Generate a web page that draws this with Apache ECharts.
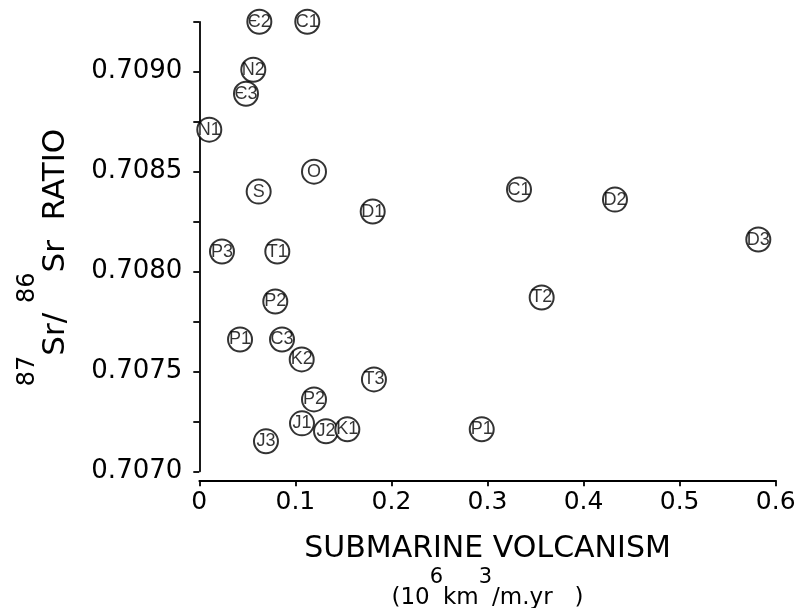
<!DOCTYPE html>
<html><head><meta charset="utf-8">
<script src="https://cdn.jsdelivr.net/npm/echarts@6/dist/echarts.min.js"></script>
<style>html,body{margin:0;padding:0;background:#fff}#c{width:797px;height:608px}</style>
</head><body><div id="c"></div>
<script>
// Geological period labels for each point
const periods = ['Є2','C1','N2','Є3','N1','O','S','D1','P3','T1','P2','P1','C3','K2','T3','P2','J1','J2','K1','J3','P1','C1','T2','D2','D3'];
// Submarine volcanism (10^6 km^3 / m.yr)
const volcanism = [0.0625,0.1124,0.0562,0.0486,0.0104,0.1194,0.0618,0.1805,0.0236,0.0812,0.0791,0.0424,0.0861,0.1066,0.1818,0.1194,0.1069,0.1319,0.1541,0.0694,0.294,0.3328,0.3564,0.4327,0.5819];
// 87Sr/86Sr ratio
const srRatio = [0.70925,0.70925,0.70901,0.70889,0.70871,0.7085,0.7084,0.7083,0.7081,0.7081,0.70785,0.70766,0.70766,0.70756,0.70746,0.70736,0.70724,0.7072,0.70721,0.70715,0.70721,0.70841,0.70787,0.70836,0.70816];
// Tick labels
const xTickLabels = ['0','0.1','0.2','0.3','0.4','0.5','0.6'];
const yTickLabels = ['0.7070','0.7075','0.7080','0.7085','0.7090'];

const ink = '#000';
const chart = echarts.init(document.getElementById('c'), null, {renderer:'canvas'});
chart.setOption({
  animation:false,
  backgroundColor:'#fff',
  grid:{left:199.3, right:21.3, top:21.8, bottom:136.7, containLabel:false, outerBoundsMode:'none'},
  xAxis:{
    type:'value', min:0, max:0.6, interval:0.1, offset:9,
    axisLine:{show:true, lineStyle:{color:ink, width:1.8}},
    axisTick:{show:true, inside:false, length:6, lineStyle:{color:ink, width:1.8}},
    splitLine:{show:false},
    axisLabel:{margin:10, fontSize:25, fontFamily:'DejaVu Sans', color:ink,
      formatter:v=>{const s=String(Math.round(v*10)/10); return xTickLabels.includes(s)?s:'';}},
    name:'{t|SUBMARINE VOLCANISM}\n{u|(10}{s|6}{u|km}{s|3}{u|/m.yr   )}',
    nameLocation:'middle', nameGap:51,
    nameTextStyle:{color:ink, fontFamily:'DejaVu Sans', align:'center',
      rich:{
        t:{fontSize:30, lineHeight:36, fontFamily:'DejaVu Sans', color:ink},
        u:{fontSize:23, lineHeight:24, verticalAlign:'bottom', fontFamily:'DejaVu Sans', color:ink},
        s:{fontSize:21, lineHeight:42, verticalAlign:'top', fontFamily:'DejaVu Sans', color:ink}
      }}
  },
  yAxis:{
    type:'value', min:0.7070, max:0.70925, interval:0.00025, offset:9,
    axisLine:{show:true, lineStyle:{color:ink, width:1.8}},
    axisTick:{show:true, inside:false, length:6, lineStyle:{color:ink, width:1.8}},
    splitLine:{show:false},
    axisLabel:{margin:8, fontSize:26, fontFamily:'DejaVu Sans', color:ink,
      formatter:v=>{const s=v.toFixed(4); return yTickLabels.includes(s)?s:'';}},
    name:'{s|87}{b|Sr/ }{s|86}{b|Sr  RATIO}',
    nameLocation:'middle', nameRotate:90, nameGap:119,
    nameTextStyle:{color:ink, fontFamily:'DejaVu Sans', padding:[0,22,0,0],
      rich:{
        b:{fontSize:31, lineHeight:34, verticalAlign:'bottom', fontFamily:'DejaVu Sans', color:ink},
        s:{fontSize:24, lineHeight:56, verticalAlign:'top', fontFamily:'DejaVu Sans', color:ink}
      }}
  },
  series:[{
    type:'scatter', clip:false,
    data:volcanism.map((x,i)=>[x, srRatio[i], periods[i]]),
    symbol:'circle', symbolSize:24,
    itemStyle:{color:'#fff', borderColor:ink, borderWidth:2},
    label:{show:true, position:'inside', formatter:p=>p.data[2], fontFamily:'Liberation Sans', fontSize:18, color:ink, textBorderWidth:0},
    emphasis:{disabled:true}
  }]
});
</script>
</body></html>
